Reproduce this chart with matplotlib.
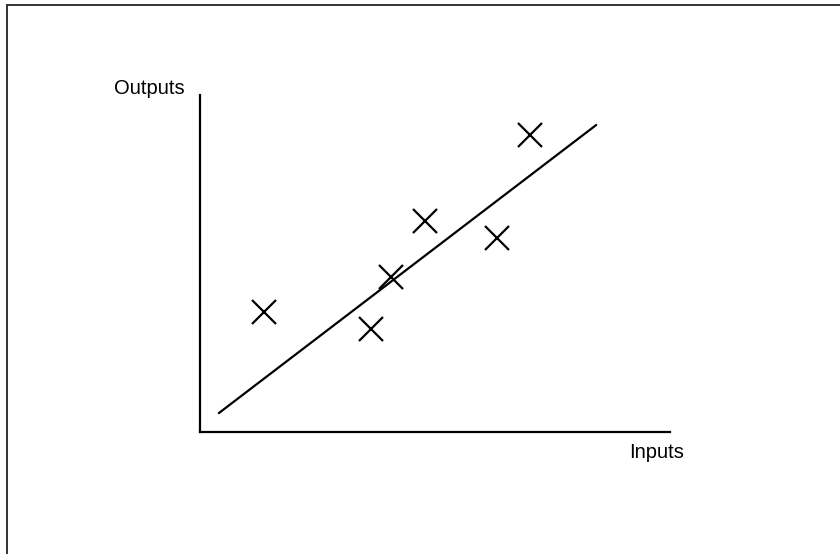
import matplotlib
matplotlib.use("Agg")
import matplotlib.pyplot as plt
from matplotlib.lines import Line2D

# Observed input/output pairs
inputs = [1.36, 3.64, 4.06, 4.79, 6.32, 7.02]
outputs = [3.56, 3.06, 4.60, 6.26, 5.76, 8.81]

# Fitted line endpoints
fit_x = [0.40, 8.43]
fit_y = [0.56, 9.11]

W, H = 840, 554
fig = plt.figure(figsize=(W / 100, H / 100), dpi=100)
fig.patch.set_facecolor("white")

# Axes box: left/bottom spines only, no ticks
left, right, top, bottom = 200, 670, 95, 432
ax = fig.add_axes([left / W, 1 - bottom / H, (right - left) / W, (bottom - top) / H])
ax.set_xlim(0, 10)
ax.set_ylim(0, 10)
for side in ("top", "right"):
    ax.spines[side].set_visible(False)
for side in ("left", "bottom"):
    ax.spines[side].set_linewidth(1.6)
    ax.spines[side].set_color("black")
ax.set_xticks([])
ax.set_yticks([])
ax.patch.set_alpha(0)

ax.plot(fit_x, fit_y, color="black", lw=1.6, solid_capstyle="round", clip_on=False)
ax.plot(inputs, outputs, linestyle="none", marker="x", markersize=17,
        markeredgewidth=1.6, color="black", clip_on=False)

font = dict(family=["Liberation Sans", "DejaVu Sans"], fontsize=14.5, color="black")
fig.text(149 / W, 1 - 88 / H, "Outputs", ha="center", va="center", **font)
fig.text(657 / W, 1 - 452 / H, "Inputs", ha="center", va="center", **font)

# Page frame along the top and left edges
fig.add_artist(Line2D([7 / W, 1], [1 - 4.5 / H, 1 - 4.5 / H], color="#333333", lw=1.4,
                      transform=fig.transFigure))
fig.add_artist(Line2D([7 / W, 7 / W], [0, 1 - 4.5 / H], color="#333333", lw=1.4,
                      transform=fig.transFigure))

fig.savefig("out.png", dpi=100, facecolor="white")
